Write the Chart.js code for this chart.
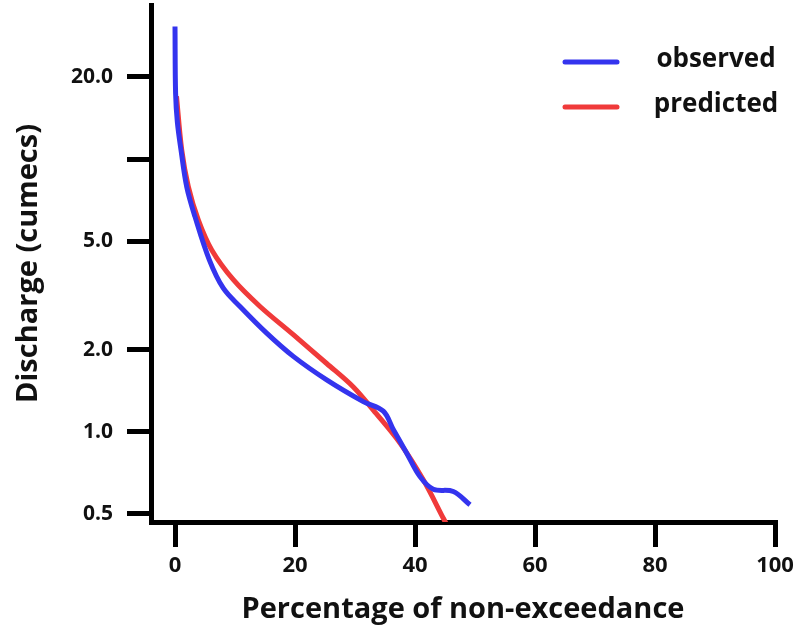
<!DOCTYPE html>
<html>
<head>
<meta charset="utf-8">
<script src="https://cdn.jsdelivr.net/npm/chart.js@4"></script>
<style>
  html, body { margin: 0; padding: 0; background: #fff; }
  #wrap { width: 812px; height: 629px; position: relative; }
</style>
</head>
<body>
<div id="wrap"><canvas id="fdc"></canvas></div>
<script>
// Flow duration data
const observedX = [0, 0.1, 0.4, 1.0, 1.95, 3.33, 5.72, 8.05, 10.83, 15.28, 19.72, 25.28, 31.38, 34.72, 36.38, 38.62, 40.83, 43.05, 46.38, 49.17];
const observedY = [30.6, 17.4, 13.6, 10.8, 7.92, 6.15, 4.27, 3.36, 2.88, 2.30, 1.89, 1.55, 1.29, 1.19, 1.02, 0.835, 0.685, 0.616, 0.604, 0.540];

const predictedX = [0.25, 1.12, 2.22, 3.88, 6.12, 9.72, 14.17, 19.72, 25.28, 29.72, 33.05, 37.5, 41.38, 44.72, 45.2];
const predictedY = [17.0, 10.8, 7.92, 5.98, 4.64, 3.61, 2.88, 2.27, 1.78, 1.46, 1.20, 0.909, 0.667, 0.482, 0.46];

const xTicks = [0, 20, 40, 60, 80, 100];
const yTicks = [0.5, 1, 2, 5, 10, 20];
const yTickLabels = ['0.5', '1.0', '2.0', '5.0', '', '20.0'];

const toPoints = (xs, ys) => xs.map((x, i) => ({ x: x, y: ys[i] }));

const FONT = "'Open Sans', 'DejaVu Sans', sans-serif";

// legend drawn at the top right, like the figure
const sideLegend = {
    id: 'sideLegend',
    afterDraw(chart) {
        const ctx = chart.ctx;
        ctx.save();
        chart.data.datasets.forEach((ds, i) => {
            const y = 62 + i * 45;
            ctx.strokeStyle = ds.borderColor;
            ctx.lineWidth = 5;
            ctx.lineCap = 'round';
            ctx.beginPath();
            ctx.moveTo(565, y);
            ctx.lineTo(617, y);
            ctx.stroke();
            ctx.fillStyle = '#111';
            ctx.font = 'bold 26px ' + FONT;
            ctx.textAlign = 'center';
            ctx.textBaseline = 'middle';
            ctx.fillText(ds.label, 716, y - 2);
        });
        ctx.restore();
    }
};

new Chart(document.getElementById('fdc'), {
    type: 'line',
    data: {
        datasets: [
            {
                label: 'observed',
                data: toPoints(observedX, observedY),
                borderColor: '#3434ee',
                borderWidth: 5,
                pointRadius: 0,
                tension: 0.35,
                fill: false
            },
            {
                label: 'predicted',
                data: toPoints(predictedX, predictedY),
                borderColor: '#f03a3a',
                borderWidth: 5,
                pointRadius: 0,
                tension: 0.35,
                fill: false
            }
        ]
    },
    options: {
        responsive: true,
        maintainAspectRatio: false,
        animation: false,
        layout: { padding: { top: 5, right: 37, left: 0, bottom: 0 } },
        plugins: {
            legend: { display: false },
            tooltip: { enabled: false }
        },
        scales: {
            x: {
                type: 'linear',
                min: -4,
                max: 100,
                afterBuildTicks: s => { s.ticks = xTicks.map(v => ({ value: v })); },
                afterFit: s => { s.height = 107; s.paddingLeft = 0; s.paddingRight = 0; },
                grid: { drawOnChartArea: false, drawTicks: true, tickLength: 25, lineWidth: 5, color: '#000' },
                border: { display: true, width: 5, color: '#000' },
                ticks: { color: '#111', padding: 6, font: { family: FONT, size: 22, weight: 'bold' }, maxRotation: 0 },
                title: { display: true, text: 'Percentage of non-exceedance', color: '#111', padding: { top: 4, bottom: 2 }, font: { family: FONT, size: 29, weight: 'bold' } }
            },
            y: {
                type: 'logarithmic',
                min: 0.467,
                max: 36.7,
                afterBuildTicks: s => { s.ticks = yTicks.map(v => ({ value: v })); },
                afterFit: s => { s.width = 151; s.paddingTop = 0; s.paddingBottom = 0; },
                grid: { drawOnChartArea: false, drawTicks: true, tickLength: 24, lineWidth: 5, color: '#000' },
                border: { display: true, width: 5, color: '#000' },
                ticks: {
                    color: '#111', padding: 14,
                    font: { family: FONT, size: 21, weight: 'bold' },
                    callback: (v, i) => yTickLabels[i]
                },
                title: { display: true, text: 'Discharge (cumecs)', color: '#111', padding: { top: 11, bottom: 0 }, font: { family: FONT, size: 29, weight: 'bold' } }
            }
        }
    },
    plugins: [sideLegend]
});
</script>
</body>
</html>
